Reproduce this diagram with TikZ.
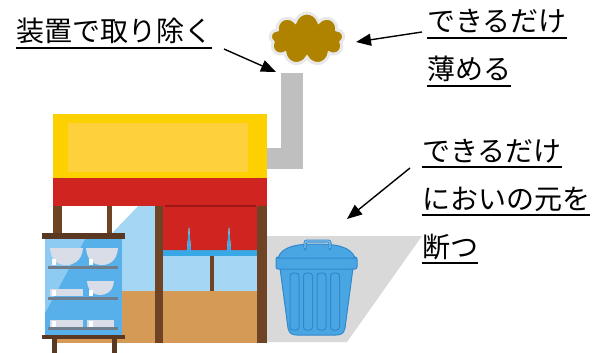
\documentclass[tikz,border=0pt]{standalone}
\usepackage{fontspec}
\setmainfont{Noto Sans CJK JP}
\usetikzlibrary{arrows.meta,shapes.symbols}

\definecolor{signOuter}{HTML}{FDD000}
\definecolor{signInner}{HTML}{FDD03C}
\definecolor{awning}{HTML}{CF2420}
\definecolor{awningDark}{HTML}{9E1616}
\definecolor{wood}{HTML}{6E4424}
\definecolor{woodDark}{HTML}{5A3822}
\definecolor{glassLight}{HTML}{A5D7F5}
\definecolor{glassStrip}{HTML}{38A9E6}
\definecolor{floorTan}{HTML}{D59A55}
\definecolor{caseBlue}{HTML}{58B0EA}
\definecolor{caseLight}{HTML}{8DCBF2}
\definecolor{shelfGray}{HTML}{6F7E8C}
\definecolor{dish}{HTML}{D9DDE7}
\definecolor{pipe}{HTML}{BFBFBF}
\definecolor{shadow}{HTML}{D9D9D9}
\definecolor{smoke}{HTML}{AF8300}
\definecolor{smokeRim}{HTML}{E8E8E8}
\definecolor{binBlue}{HTML}{4AA5E3}
\definecolor{binEdge}{HTML}{2F88CE}

\tikzset{
  lbl/.style={inner sep=0pt, font=\fontsize{28}{30}\selectfont, text=black},
  uline/.style={line width=2pt, black},
  callout/.style={line width=1.4pt, -{Triangle[length=15pt,width=12pt]}},
  pillar/.style={fill=wood},
  board/.style={fill=woodDark},
  dishfill/.style={fill=dish},
}

\begin{document}
\begin{tikzpicture}[x=1pt,y=-1pt]
\useasboundingbox (0,0) rectangle (614,353);

% ground shadow behind the bin
\fill[shadow] (267,236) -- (422,236) -- (347,342) -- (267,342) -- cycle;

% chimney duct
\fill[pipe] (281,73) rectangle (303,169);
\fill[pipe] (267,148) rectangle (303,169);

% smoke cloud
\node[cloud, cloud puffs=9, aspect=1.4, minimum width=74pt, minimum height=52pt,
      fill=smoke, draw=smokeRim, line width=3pt] (smk) at (307,39) {};

% shop sign and awning
\fill[signOuter] (53,114) rectangle (267,178);
\fill[signInner] (68,123) rectangle (248,172);
\fill[awning] (53,178) rectangle (267,206);

% left window
\fill[glassLight] (62,206) rectangle (155,291);
\fill[white] (62,206) -- (138,206) -- (62,285) -- cycle;
\fill[floorTan] (53,291) rectangle (267,343);
\fill[pillar] (53,206) rectangle (62,240);
\fill[pillar] (107,206) rectangle (112,240);

% doorway with curtain
\fill[glassLight] (163,250) rectangle (257,291);
\fill[glassStrip] (163,250) rectangle (257,256);
\fill[awning] (163,206) -- (257,206) -- (257,250)
  -- (231,250) -- (229,225) -- (227,250)
  -- (191,250) -- (189,225) -- (187,250)
  -- (163,250) -- cycle;
\fill[glassStrip] (187,250) -- (189,225) -- (191,250) -- cycle;
\fill[glassStrip] (227,250) -- (229,225) -- (231,250) -- cycle;
\draw[awningDark, line width=1.2pt] (165,206) -- (256,206);
\fill[pillar] (210,256) rectangle (214,291);
\fill[pillar] (155,206) rectangle (163,343);
\fill[pillar] (257,206) rectangle (267,343);

% display case
\fill[board] (52,339) rectangle (57,353);
\fill[board] (112,339) rectangle (117,353);
\fill[caseBlue] (45,239) rectangle (122,335);
\fill[caseLight] (45,239) -- (85,239) -- (45,313) -- cycle;
\fill[board] (42,233) rectangle (125,239);
\fill[board] (42,335) rectangle (125,339);
% dishes
\fill[dishfill] (50,248) -- (83,248) .. controls (82,262) and (72,265) .. (66,265) .. controls (58,265) and (51,261) .. cycle;
\fill[dishfill] (86,248) -- (118,248) .. controls (117,262) and (108,265) .. (102,265) .. controls (94,265) and (87,261) .. cycle;
\fill[dishfill] (87,281) -- (114,281) .. controls (113,292) and (106,295) .. (100,295) .. controls (94,295) and (88,292) .. cycle;
\fill[dishfill] (50,289) rectangle (83,296);
\fill[dishfill] (50,320) rectangle (83,327);
\fill[dishfill] (87,320) rectangle (114,327);
\fill[white] (52,259) rectangle (56,265);
\fill[white] (89,259) rectangle (93,265);
\fill[white] (52,290) rectangle (56,296);
\fill[white] (89,290) rectangle (93,296);
\fill[white] (52,321) rectangle (56,327);
\fill[white] (89,321) rectangle (93,327);
% shelves
\fill[shelfGray] (48,266) rectangle (118,269);
\fill[shelfGray] (48,297) rectangle (118,300);
\fill[shelfGray] (48,327) rectangle (118,330);

% dust bin
\filldraw[fill=binBlue, draw=binEdge, line width=1pt]
  (280,268) -- (353,268) -- (345,328) .. controls (344,334) and (340,335) .. (336,335)
  -- (297,335) .. controls (293,335) and (289,334) .. (288,328) -- cycle;
\foreach \a in {290, 303.5, 317, 330.5}{
  \draw[binEdge, line width=1pt, rounded corners=3pt]
    (\a,273) rectangle (\a+9,330);
}
\filldraw[fill=binBlue, draw=binEdge, line width=1pt, rounded corners=2pt]
  (276,257) rectangle (357,269);
\filldraw[fill=binBlue, draw=binEdge, line width=1pt]
  (278,258) .. controls (282,246) and (298,244) .. (316,244)
  .. controls (334,244) and (351,246) .. (355,258) -- cycle;
\draw[binEdge, line width=3pt, line cap=round, rounded corners=2pt]
  (305,249) -- (305,241) -- (330,241) -- (330,249);
\draw[binBlue!70!white, line width=1.2pt, line cap=round, rounded corners=2pt]
  (305,248) -- (305,241) -- (330,241) -- (330,248);

% labels
\node[lbl, anchor=base west] (t1) at (16,42) {装置で取り除く};
\draw[uline] ([yshift=-6pt]t1.base west) -- ([yshift=-6pt]t1.base east);

\node[lbl, anchor=base west] (t2a) at (427,32) {できるだけ};
\node[lbl, anchor=base west] (t2b) at (427,80) {薄める};
\draw[uline] ([yshift=-6pt]t2a.base west) -- ([yshift=-6pt]t2a.base east);
\draw[uline] ([yshift=-6pt]t2b.base west) -- ([yshift=-6pt]t2b.base east);

\node[lbl, anchor=base west] (t3a) at (422,161) {できるだけ};
\node[lbl, anchor=base west] (t3b) at (422,209) {においの元を};
\node[lbl, anchor=base west] (t3c) at (422,257) {断つ};
\draw[uline] ([yshift=-6pt]t3a.base west) -- ([yshift=-6pt]t3a.base east);
\draw[uline] ([yshift=-6pt]t3b.base west) -- ([yshift=-6pt]t3b.base east);
\draw[uline] ([yshift=-6pt]t3c.base west) -- ([yshift=-6pt]t3c.base east);

% callout arrows
\coordinate (a1s) at (224,49);
\coordinate (a1e) at (276,72);
\coordinate (a2s) at (422,32);
\coordinate (a2e) at (356,42);
\coordinate (a3s) at (410,168);
\coordinate (a3e) at (347,219);
\draw[callout] (a1s) -- (a1e);
\draw[callout] (a2s) -- (a2e);
\draw[callout] (a3s) -- (a3e);
\end{tikzpicture}
\end{document}
